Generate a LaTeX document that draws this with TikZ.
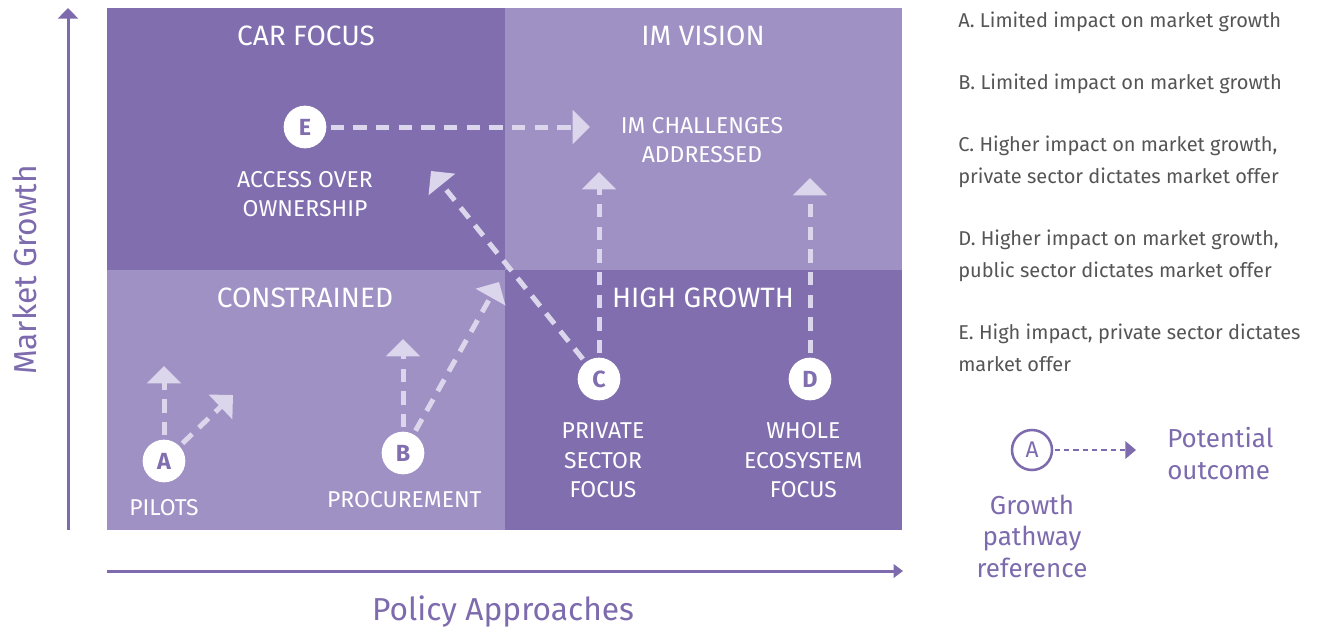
\documentclass[tikz,border=0pt]{standalone}
\usepackage{fontspec}
\setmainfont{Fira Sans}
\usetikzlibrary{arrows.meta}

\definecolor{darkquad}{HTML}{806EAF}
\definecolor{lightquad}{HTML}{9F91C4}
\definecolor{dashlav}{HTML}{DCD6EC}
\definecolor{axispurple}{HTML}{7D6BAE}
\definecolor{legendgrey}{HTML}{555555}

\begin{document}
\begin{tikzpicture}[x=0.75pt,y=-0.75pt,
        node distance=35pt,
        quad title/.style={text=white,font=\fontsize{21}{24}\selectfont},
        tag/.style={text=white,align=center,font=\fontsize{17.2}{22}\selectfont},
        main node/.style={circle,fill=white,text=darkquad,minimum size=32pt,inner sep=0pt,
          font=\fontsize{17.5}{17.5}\selectfont\bfseries},
        path arrow/.style={color=dashlav,line width=3.75pt,dash pattern=on 10pt off 7pt,
          -{Triangle[width=25pt,length=13pt]},shorten <=3pt},
        axis arrow/.style={color=axispurple,line width=2.25pt},
        axis label/.style={text=axispurple,font=\fontsize{23.8}{26}\selectfont},
        legend text/.style={text=legendgrey,anchor=base west,align=left,inner sep=0pt,
          font=\fontsize{15}{24}\selectfont},
        key text/.style={text=axispurple,inner sep=0pt,font=\fontsize{19.5}{23.6}\selectfont}]

        \useasboundingbox (0,0) rectangle (1325,632);

        % quadrants
        \fill[darkquad] (107,8) rectangle (505,270);
        \fill[lightquad] (505,8) rectangle (902,270);
        \fill[lightquad] (107,270) rectangle (505,530);
        \fill[darkquad] (505,270) rectangle (902,530);

        \node[quad title] (carfocus) at (306,36) {CAR FOCUS};
        \node[quad title] (imvision) at (703,36) {IM VISION};
        \node[quad title] (constrained) at (305,298) {CONSTRAINED};
        \node[quad title] (highgrowth) at (703,298) {HIGH GROWTH};

        % growth pathways
        \node[main node] (A) at (164,461) {A};
        \node[main node] (B) at (403,453) {B};
        \node[main node] (C) at (599,379) {C};
        \node[main node] (D) at (810,379) {D};
        \node[main node] (E) at (305,127) {E};

        \node[tag] (pilots) [below of=A] {PILOTS};
        \node[tag] (procurement) [below of=B, xshift=1pt] {PROCUREMENT};
        \node[tag] (private) [below of=C, node distance=61pt, xshift=3pt] {PRIVATE\\SECTOR\\FOCUS};
        \node[tag] (whole) [below of=D, node distance=61pt, xshift=-5pt] {WHOLE\\ECOSYSTEM\\FOCUS};
        \node[tag] (access) [below of=E, node distance=50.5pt] {ACCESS OVER\\OWNERSHIP};
        \node[tag] (imchallenges) at (702,140) {IM CHALLENGES\\ADDRESSED};

        \coordinate (Aup) at (164,366);
        \coordinate (Adiag) at (233,395);
        \coordinate (Bup) at (403,339);
        \coordinate (Bdiag) at (499,282);
        \coordinate (Cup) at (599,172);
        \coordinate (Cdiag) at (431,171);
        \coordinate (Dup) at (810,178);
        \coordinate (Eright) at (590,127);

        \path[path arrow]
          (A) edge (Aup)
          (A) edge (Adiag)
          (B) edge (Bup)
          (B) edge (Bdiag)
          (C) edge (Cup)
          (C) edge (Cdiag)
          (D) edge (Dup)
          (E) edge (Eright)
          ;

        % axes
        \coordinate (origin y) at (68,530);
        \coordinate (top y) at (68,8);
        \coordinate (origin x) at (107,571);
        \coordinate (end x) at (903,571);
        \draw[axis arrow,-{Triangle[width=15pt,length=8pt]}] (origin y) -- (top y);
        \draw[axis arrow,-{Triangle[width=10pt,length=7pt]}] (origin x) -- (end x);
        \node[axis label,rotate=90] (marketgrowth) at (25,270) {Market Growth};
        \node[axis label] (policy) at (503,611) {Policy Approaches};

        % descriptions (base = last line)
        \node[legend text] (descA) at (958,27) {A. Limited impact on market growth};
        \node[legend text] (descB) at (958,89) {B. Limited impact on market growth};
        \node[legend text] (descC) at (958,183) {C. Higher impact on market growth,\\private sector dictates market offer};
        \node[legend text] (descD) at (958,277) {D. Higher impact on market growth,\\public sector dictates market offer};
        \node[legend text] (descE) at (958,371) {E. High impact, private sector dictates\\market offer};

        % key
        \node[circle,draw=axispurple,line width=1.9pt,text=axispurple,minimum size=30pt,inner sep=0pt,
          font=\fontsize{17}{17}\selectfont] (keyA) at (1032,450) {A};
        \coordinate (keytip) at (1136,450);
        \draw[color=axispurple,line width=1.9pt,dash pattern=on 4pt off 3pt,
          -{Triangle[width=13pt,length=8pt]},shorten <=1pt] (keyA) -- (keytip);
        \node[key text,anchor=base west,align=left] (outcome) at (1167,479) {Potential\\outcome};
        \node[key text,anchor=base,align=center] (keyref) at (1032,577) {Growth\\pathway\\reference};
\end{tikzpicture}
\end{document}
